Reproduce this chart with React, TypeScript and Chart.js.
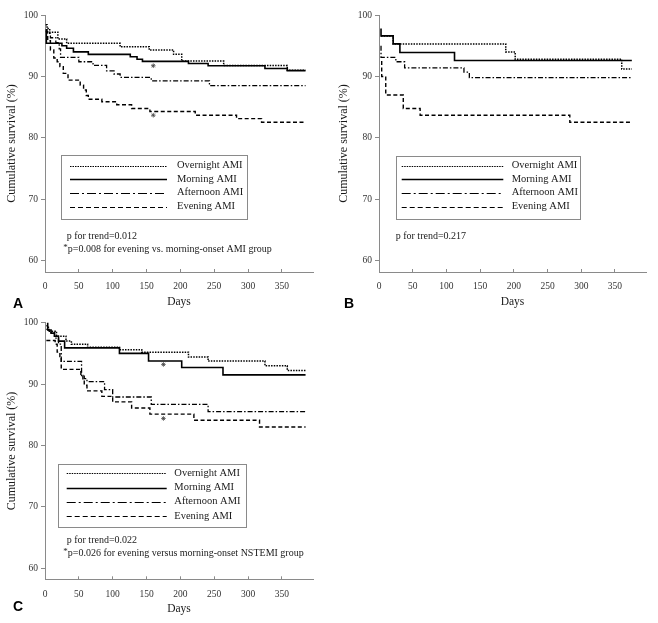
import React, { useEffect, useRef } from 'react';
import { Chart, registerables } from 'chart.js';

Chart.register(...registerables);

// ---------- shared labels / ticks ----------
const legendLabels = ['Overnight AMI', 'Morning AMI', 'Afternoon AMI', 'Evening AMI'];
const dayTicks = [0, 50, 100, 150, 200, 250, 300, 350];
const survivalTicks = [60, 70, 80, 90, 100];

// ---------- Panel A ----------
const aOvernightDays = [1, 3, 7, 19, 32, 111, 154, 190, 202, 264, 358, 385];
const aOvernightSurv = [98.4, 97.8, 97.2, 96.1, 95.4, 94.85, 94.3, 93.6, 92.5, 91.8, 91.0, 91.0];
const aMorningDays = [1, 2, 25, 32, 42, 64, 126, 136, 144, 212, 241, 325, 358, 385];
const aMorningSurv = [97.5, 95.4, 95.0, 94.6, 94.0, 93.6, 93.2, 92.8, 92.45, 92.1, 91.75, 91.3, 90.95, 90.95];
const aAfternoonDays = [1, 3, 8, 16, 21, 23, 50, 71, 91, 102, 111, 157, 243, 385];
const aAfternoonSurv = [97.6, 97.0, 96.3, 95.5, 94.5, 93.1, 92.4, 91.8, 90.9, 90.4, 89.85, 89.3, 88.5, 88.5];
const aEveningDays = [1, 4, 8, 13, 18, 22, 27, 34, 52, 57, 61, 64, 84, 106, 128, 155, 222, 283, 320, 385];
const aEveningSurv = [97.3, 95.8, 94.3, 93.0, 92.4, 91.6, 90.5, 89.4, 88.6, 87.8, 86.9, 86.3, 85.9, 85.4, 84.8, 84.3, 83.7, 83.15, 82.55, 82.55];
const aMarkDays = [160, 160];
const aMarkSurv = [91.75, 83.7];

// ---------- Panel B ----------
const bOvernightDays = [3, 21, 188, 202, 360, 375];
const bOvernightSurv = [96.6, 95.3, 94.0, 92.8, 91.2, 91.2];
const bMorningDays = [3, 3, 21, 31, 112, 375];
const bMorningSurv = [97.8, 96.6, 95.3, 93.9, 92.6, 92.6];
const bAfternoonDays = [3, 3, 25, 38, 126, 134, 375];
const bAfternoonSurv = [95.0, 93.1, 92.4, 91.4, 90.7, 89.8, 89.8];
const bEveningDays = [3, 4, 10, 36, 61, 283, 375];
const bEveningSurv = [92.4, 90.0, 87.0, 84.8, 83.7, 82.55, 82.55];

// ---------- Panel C ----------
const cOvernightDays = [2, 5, 17, 31, 39, 63, 110, 143, 212, 241, 325, 358, 385];
const cOvernightSurv = [99.5, 98.6, 97.8, 97.0, 96.5, 96.0, 95.6, 95.2, 94.4, 93.75, 93.0, 92.2, 92.2];
const cMorningDays = [3, 4, 9, 14, 20, 29, 110, 153, 202, 263, 385];
const cMorningSurv = [100, 98.8, 98.3, 97.8, 97.0, 95.9, 95.0, 93.75, 92.7, 91.5, 91.5];
const cAfternoonDays = [2, 6, 14, 20, 24, 54, 58, 62, 88, 100, 157, 241, 385];
const cAfternoonSurv = [98.9, 98.4, 97.5, 96.5, 93.7, 91.4, 90.9, 90.4, 89.1, 87.9, 86.7, 85.5, 85.5];
const cEveningDays = [2, 15, 18, 22, 24, 53, 56, 58, 62, 84, 100, 128, 155, 220, 317, 385];
const cEveningSurv = [97.1, 96.5, 95.2, 94.5, 92.4, 91.4, 90.6, 89.8, 88.9, 88.0, 87.1, 86.1, 85.1, 84.1, 83.0, 83.0];
const cMarkDays = [175, 175];
const cMarkSurv = [93.2, 84.4];

// ---------- styles ----------
const SERIF = '"Liberation Serif", "Times New Roman", serif';
const curveDash = [[1.5, 1.2], [], [5, 2, 1.5, 2], [4, 2.5]];
const curveWidth = [1.5, 1.6, 1.3, 1.4];
const legendDash = [[1.5, 1], [], [9, 3, 2, 3], [5, 3]];

type PanelSpec = {
  series: [number[], number[]][];
  marks?: [number[], number[]];
  xMax: number;
  padTop: number;
  padRight: number;
  yAxisW: number;
  xAxisH: number;
  yTitlePad: number;
  xTitlePad: number;
  legend: { x: number; y: number; w: number; h: number; rows: number[]; lx1: number; lx2: number; tx: number };
  notes: { text: string; x: number; y: number; star?: boolean }[];
  letter: { text: string; x: number; y: number };
  width: number;
  height: number;
  left: number;
  top: number;
};

function decorPlugin(spec: PanelSpec) {
  return {
    id: 'decor',
    afterDraw(chart: any) {
      const ctx: CanvasRenderingContext2D = chart.ctx;
      const L = spec.legend;
      ctx.save();
      ctx.strokeStyle = '#8a8a8a';
      ctx.lineWidth = 1;
      ctx.setLineDash([]);
      ctx.strokeRect(Math.round(L.x) + 0.5, Math.round(L.y) + 0.5, Math.round(L.w), Math.round(L.h));
      legendLabels.forEach((label, i) => {
        const y = Math.round(L.rows[i]) + 0.5;
        ctx.strokeStyle = '#000';
        ctx.lineWidth = i === 1 ? 1.5 : 1.2;
        ctx.setLineDash(legendDash[i]);
        ctx.beginPath();
        ctx.moveTo(L.lx1, y);
        ctx.lineTo(L.lx2, y);
        ctx.stroke();
        ctx.setLineDash([]);
        ctx.fillStyle = '#1a1a1a';
        ctx.font = `10.5px ${SERIF}`;
        ctx.textAlign = 'left';
        ctx.textBaseline = 'middle';
        ctx.fillText(label, L.tx, L.rows[i]);
      });
      spec.notes.forEach((n) => {
        ctx.fillStyle = '#1a1a1a';
        ctx.textAlign = 'left';
        ctx.textBaseline = 'middle';
        let x = n.x;
        if (n.star) {
          ctx.font = `9px ${SERIF}`;
          ctx.fillText('*', x, n.y - 1.5);
          x += ctx.measureText('*').width;
        }
        ctx.font = `10px ${SERIF}`;
        ctx.fillText(n.text, x, n.y);
      });
      ctx.font = 'bold 14px "Liberation Sans", Arial, sans-serif';
      ctx.fillStyle = '#000';
      ctx.textAlign = 'left';
      ctx.textBaseline = 'middle';
      ctx.fillText(spec.letter.text, spec.letter.x, spec.letter.y);
      ctx.restore();
    },
  };
}

function buildConfig(spec: PanelSpec): any {
  const datasets: any[] = spec.series.map(([days, surv], i) => ({
    label: legendLabels[i],
    data: days.map((d, j) => ({ x: d, y: surv[j] })),
    showLine: true,
    stepped: true,
    borderColor: '#000',
    backgroundColor: '#000',
    borderWidth: curveWidth[i],
    borderDash: curveDash[i],
    pointRadius: 0,
    fill: false,
  }));
  if (spec.marks) {
    datasets.push({
      label: 'significance',
      data: spec.marks[0].map((d, j) => ({ x: d, y: spec.marks![1][j] })),
      showLine: false,
      pointStyle: 'star',
      pointRadius: 2.3,
      borderColor: '#444',
      borderWidth: 0.8,
    });
  }
  return {
    type: 'scatter',
    data: { datasets },
    options: {
      animation: false,
      responsive: false,
      maintainAspectRatio: false,
      events: [],
      layout: { padding: { top: spec.padTop, right: spec.padRight, bottom: 0, left: 0 } },
      plugins: { legend: { display: false }, tooltip: { enabled: false } },
      scales: {
        x: {
          type: 'linear',
          min: 0,
          max: spec.xMax,
          afterBuildTicks: (s: any) => {
            s.ticks = dayTicks.map((v) => ({ value: v }));
          },
          afterFit: (s: any) => {
            s.height = spec.xAxisH;
          },
          grid: { drawOnChartArea: false, drawTicks: true, tickLength: -3, color: '#8a8a8a', lineWidth: 1 },
          border: { color: '#8a8a8a', width: 1 },
          ticks: { font: { family: SERIF, size: 9.5 }, color: '#333', padding: 12, maxRotation: 0, autoSkip: false },
          title: {
            display: true,
            text: 'Days',
            font: { family: SERIF, size: 11.5 },
            color: '#1a1a1a',
            padding: { top: 0, bottom: spec.xTitlePad },
          },
        },
        y: {
          type: 'linear',
          min: 58.2,
          max: 100,
          afterBuildTicks: (s: any) => {
            s.ticks = survivalTicks.map((v) => ({ value: v }));
          },
          afterFit: (s: any) => {
            s.width = spec.yAxisW;
          },
          grid: { drawOnChartArea: false, drawTicks: true, tickLength: 4, color: '#8a8a8a', lineWidth: 1 },
          border: { color: '#8a8a8a', width: 1 },
          ticks: { font: { family: SERIF, size: 9.5 }, color: '#333', padding: 3 },
          title: {
            display: true,
            text: 'Cumulative survival (%)',
            font: { family: SERIF, size: 12 },
            color: '#1a1a1a',
            padding: { top: spec.yTitlePad, bottom: 0 },
          },
        },
      },
    },
    plugins: [decorPlugin(spec)],
  };
}

const panelA: PanelSpec = {
  series: [
    [aOvernightDays, aOvernightSurv],
    [aMorningDays, aMorningSurv],
    [aAfternoonDays, aAfternoonSurv],
    [aEveningDays, aEveningSurv],
  ],
  marks: [aMarkDays, aMarkSurv],
  xMax: 396,
  padTop: 15,
  padRight: 17,
  yAxisW: 45,
  xAxisH: 38,
  yTitlePad: 5,
  xTitlePad: 1,
  legend: { x: 61, y: 155, w: 186, h: 64, rows: [165.7, 179, 192.7, 206.7], lx1: 70, lx2: 167, tx: 177 },
  notes: [
    { text: 'p for trend=0.012', x: 66.7, y: 236 },
    { text: 'p=0.008 for evening vs. morning-onset AMI group', x: 63.3, y: 249.3, star: true },
  ],
  letter: { text: 'A', x: 13, y: 304 },
  width: 330,
  height: 310,
  left: 0,
  top: 0,
};

const panelB: PanelSpec = {
  series: [
    [bOvernightDays, bOvernightSurv],
    [bMorningDays, bMorningSurv],
    [bAfternoonDays, bAfternoonSurv],
    [bEveningDays, bEveningSurv],
  ],
  xMax: 396,
  padTop: 15,
  padRight: 12,
  yAxisW: 49,
  xAxisH: 38,
  yTitlePad: 7,
  xTitlePad: 1,
  legend: { x: 65.5, y: 156, w: 184, h: 63, rows: [165.7, 179, 192.7, 206.7], lx1: 71.7, lx2: 173.3, tx: 181.7 },
  notes: [{ text: 'p for trend=0.217', x: 65.7, y: 236 }],
  letter: { text: 'B', x: 14, y: 304 },
  width: 328,
  height: 310,
  left: 330,
  top: 0,
};

const panelC: PanelSpec = {
  series: [
    [cOvernightDays, cOvernightSurv],
    [cMorningDays, cMorningSurv],
    [cAfternoonDays, cAfternoonSurv],
    [cEveningDays, cEveningSurv],
  ],
  marks: [cMarkDays, cMarkSurv],
  xMax: 396,
  padTop: 12.7,
  padRight: 17,
  yAxisW: 45,
  xAxisH: 43.7,
  yTitlePad: 5,
  xTitlePad: 7,
  legend: { x: 58.3, y: 154, w: 187.7, h: 62.7, rows: [163.3, 177.7, 191.7, 206], lx1: 66.7, lx2: 166.7, tx: 174.3 },
  notes: [
    { text: 'p for trend=0.022', x: 66.7, y: 230 },
    { text: 'p=0.026 for evening versus morning-onset NSTEMI group', x: 63.3, y: 243.3, star: true },
  ],
  letter: { text: 'C', x: 13, y: 297 },
  width: 330,
  height: 313,
  left: 0,
  top: 310,
};

function Panel({ spec }: { spec: PanelSpec }) {
  const ref = useRef<HTMLCanvasElement | null>(null);
  useEffect(() => {
    if (!ref.current) return;
    const chart = new Chart(ref.current, buildConfig(spec));
    return () => chart.destroy();
  }, [spec]);
  return (
    <canvas
      ref={ref}
      width={spec.width}
      height={spec.height}
      style={{ position: 'absolute', left: spec.left, top: spec.top, width: spec.width, height: spec.height }}
    />
  );
}

export default function App() {
  return (
    <div style={{ position: 'absolute', left: 0, top: 0, width: 658, height: 623, background: '#fff', overflow: 'hidden' }}>
      <Panel spec={panelA} />
      <Panel spec={panelB} />
      <Panel spec={panelC} />
    </div>
  );
}
